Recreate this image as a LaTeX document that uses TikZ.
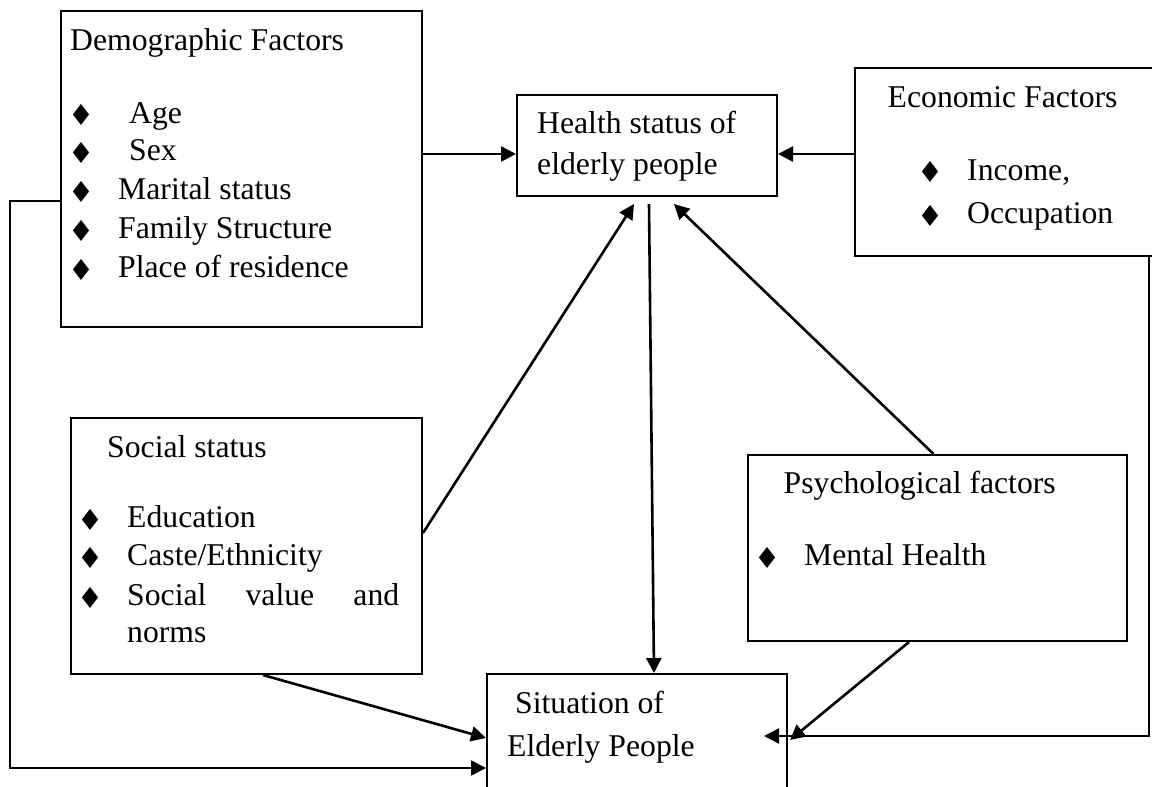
\documentclass[tikz,border=0pt]{standalone}
\usepackage{fontspec}
\setmainfont{Liberation Serif}
\newfontfamily\djv{DejaVu Sans}
\usetikzlibrary{arrows.meta}
\newcommand\tf{\fontsize{31.7pt}{38pt}\selectfont}
\tikzset{
  box/.style={draw, line width=2pt, inner sep=0pt, anchor=north west},
  arr/.style={line width=2.6pt, -{Triangle[length=15pt,width=15pt]}},
  txt/.style={anchor=base west, inner sep=0pt, font=\tf},
  dia/.style={anchor=center, inner sep=0pt, font=\djv\fontsize{29pt}{29pt}\selectfont}
}
\begin{document}
\begin{tikzpicture}[x=1pt,y=-1pt]
\useasboundingbox (0,0) rectangle (1152,787);
% boxes
\node[box, minimum width=361pt, minimum height=316pt] (demo) at (60,10) {};
\node[box, minimum width=260pt, minimum height=101pt] (health) at (516,94) {};
\node[box, minimum width=320pt, minimum height=188pt] (econ) at (854,67) {};
\node[box, minimum width=351pt, minimum height=256pt] (social) at (70,417) {};
\node[box, minimum width=379pt, minimum height=186pt] (psych) at (747,454) {};
\node[box, minimum width=300pt, minimum height=140pt] (sit) at (486,673) {};
% demographic text
\node[txt] (dT) at (70,50) {Demographic Factors};
\node[dia] (dB1) at (81,115) {♦};
\node[dia] (dB2) at (81,153) {♦};
\node[dia] (dB3) at (81,192) {♦};
\node[dia] (dB4) at (81,231) {♦};
\node[dia] (dB5) at (81,270) {♦};
\node[txt] (d1) at (129,123) {Age};
\node[txt] (d2) at (129,160) {Sex};
\node[txt] (d3) at (118,199) {Marital status};
\node[txt] (d4) at (118,238) {Family Structure};
\node[txt] (d5) at (118,277) {Place of residence};
% health text
\node[txt] (h1) at (537,133) {Health status of};
\node[txt] (h2) at (537,174) {elderly people};
% economic text
\node[txt] (eT) at (887.5,107) {Economic Factors};
\node[dia] (eB1) at (930.5,172) {♦};
\node[dia] (eB2) at (930.5,216) {♦};
\node[txt] (e1) at (967,180) {Income,};
\node[txt] (e2) at (967,223) {Occupation};
% social text
\node[txt] (sT) at (107,457) {Social status};
\node[dia] (sB1) at (90,520) {♦};
\node[dia] (sB2) at (90,558) {♦};
\node[dia] (sB3) at (90,598) {♦};
\node[txt] (s1) at (127,527) {Education};
\node[txt] (s2) at (127,565) {Caste/Ethnicity};
\node[txt] (s3) at (127,605) {\makebox[272pt][s]{Social value and}};
\node[txt] (s4) at (127,642) {norms};
% psychological text
\node[txt] (pT) at (783.5,493) {Psychological factors};
\node[dia] (pB1) at (767,558) {♦};
\node[txt] (p1) at (804,565) {Mental Health};
% situation text
\node[txt] (t1) at (515,713) {Situation of};
\node[txt] (t2) at (507,756) {Elderly People};
% connectors
\path ([yshift=-8.5pt]health.west) coordinate (hl);
\path ([yshift=-8.5pt]health.east) coordinate (hr);
\draw[arr] (demo.east |- hl) -- (hl);
\draw[arr] (econ.west |- hr) -- (hr);
\draw[arr] ([yshift=13pt]social.east) -- ([xshift=-13pt,yshift=-7pt]health.south);
\draw[arr] ([xshift=-4pt]psych.north) -- ([xshift=27pt,yshift=-7pt]health.south);
\draw[arr] ([xshift=2pt,yshift=-7pt]health.south) -- ([xshift=17pt]sit.north);
\draw[arr] ([xshift=16.5pt]social.south) -- ([yshift=-65pt]sit.north west);
\draw[arr] ([xshift=-28.5pt]psych.south) -- ([xshift=2pt,yshift=-67pt]sit.north east);
\draw[arr] ([xshift=295pt]econ.south west) |- ([xshift=-24pt,yshift=-63pt]sit.north east);
\draw[arr] ([yshift=-32pt]demo.west) -- ++(-50,0) |- ([yshift=-95pt]sit.north west);
\end{tikzpicture}
\end{document}
